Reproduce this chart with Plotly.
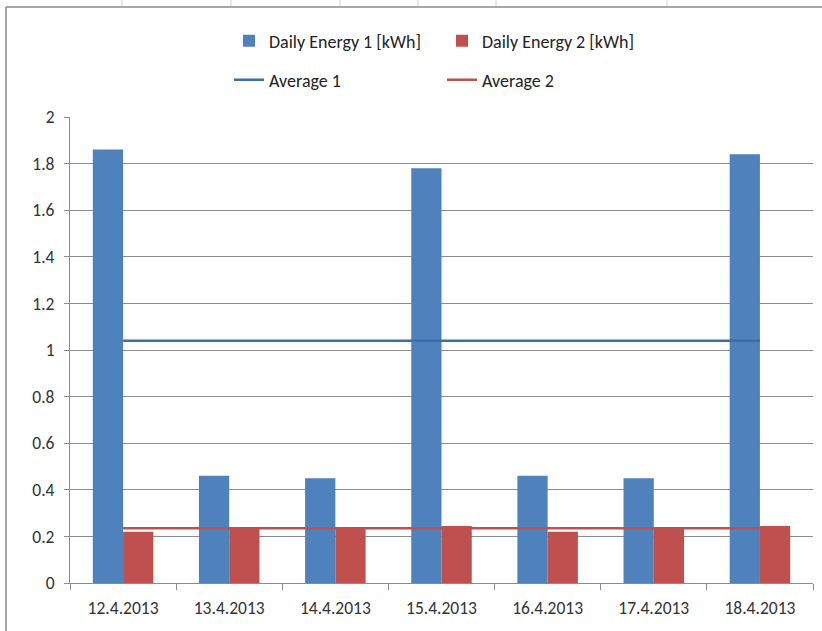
import plotly.graph_objects as go

dates = ["12.4.2013", "13.4.2013", "14.4.2013", "15.4.2013",
         "16.4.2013", "17.4.2013", "18.4.2013"]
energy_1 = [1.86, 0.46, 0.45, 1.78, 0.46, 0.45, 1.84]
energy_2 = [0.22, 0.235, 0.235, 0.245, 0.22, 0.235, 0.245]
average_1 = [1.04] * len(dates)
average_2 = [0.235] * len(dates)

FONT = "Carlito, Liberation Sans, Arial, sans-serif"
GRID = "#8c8c8c"

fig = go.Figure()
fig.add_trace(go.Bar(x=dates, y=energy_1, name="Daily Energy 1 [kWh]",
                     marker=dict(color="#4F81BD", line=dict(width=0)), legend="legend"))
fig.add_trace(go.Bar(x=dates, y=energy_2, name="Daily Energy 2 [kWh]",
                     marker=dict(color="#C0504D", line=dict(width=0)), legend="legend"))
fig.add_trace(go.Scatter(x=dates, y=average_1, name="Average 1", mode="lines",
                         line=dict(color="#3F6EA7", width=2.5), legend="legend2"))
fig.add_trace(go.Scatter(x=dates, y=average_2, name="Average 2", mode="lines",
                         line=dict(color="#C0504D", width=2.5), legend="legend2"))

# chart frame and sheet gridlines (pixel -> paper)
L, R, T, B = 70, 813, 117, 583
def px(x):
    return (x - L) / (R - L)
def py(y):
    return (B - y) / (B - T)

shapes = [
    dict(type="line", xref="paper", yref="paper", x0=px(6), x1=px(6), y0=py(7), y1=py(640),
         line=dict(color="#8a8a8a", width=1.5)),
    dict(type="line", xref="paper", yref="paper", x0=px(6), x1=px(830), y0=py(7), y1=py(7),
         line=dict(color="#8a8a8a", width=1.5)),
]
for sx in [122, 231, 340, 418, 496, 667]:
    shapes.append(dict(type="line", xref="paper", yref="paper", x0=px(sx), x1=px(sx),
                       y0=py(0), y1=py(6), line=dict(color="#d4d4d4", width=1)))

fig.update_layout(
    width=822, height=631,
    margin=dict(l=L, r=822 - R, t=T, b=631 - B),
    paper_bgcolor="white", plot_bgcolor="white",
    font=dict(family=FONT, size=17, color="#333333"),
    barmode="group", bargap=0.43, bargroupgap=0,
    shapes=shapes,
    legend=dict(orientation="h", x=px(229), y=py(41), xanchor="left", yanchor="middle",
                entrywidth=168, font=dict(size=18, color="#222222"), traceorder="normal"),
    legend2=dict(orientation="h", x=px(229), y=py(80), xanchor="left", yanchor="middle",
                 entrywidth=168, font=dict(size=18, color="#222222")),
)
fig.update_xaxes(showline=True, linecolor=GRID, linewidth=1, ticks="outside",
                 tickson="boundaries", ticklen=6, tickcolor=GRID,
                 tickfont=dict(size=17.5, color="#333333"), ticklabelstandoff=9)
fig.update_yaxes(range=[0, 2], dtick=0.2, showgrid=True, gridcolor=GRID, gridwidth=1,
                 showline=True, linecolor=GRID, linewidth=1, ticks="outside",
                 ticklen=5, tickcolor=GRID, zeroline=False,
                 tickfont=dict(size=17.5, color="#333333"), ticklabelstandoff=6)

fig.write_html("out.html", config={"displayModeBar": False},
               post_script="document.body.style.margin='0px';")
